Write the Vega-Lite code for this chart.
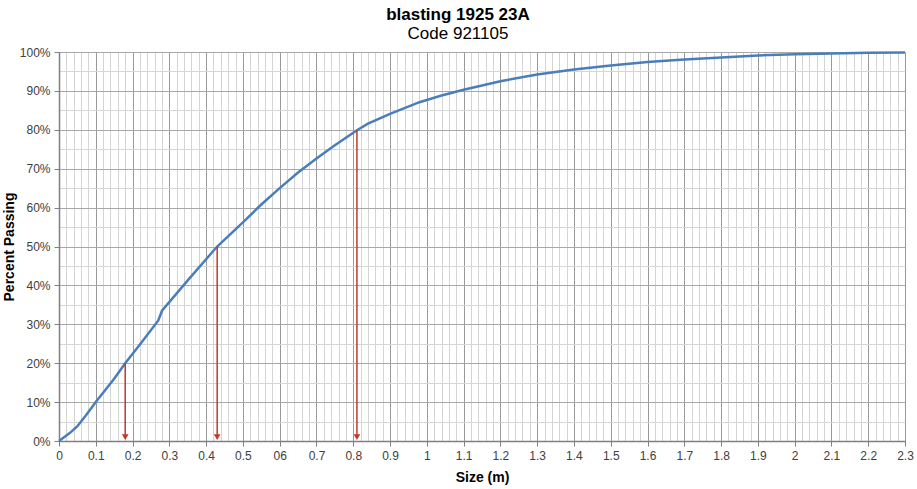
{
  "$schema": "https://vega.github.io/schema/vega-lite/v6.json",
  "autosize": "none",
  "width": 846,
  "height": 389,
  "padding": {"left": 59, "top": 52, "right": 12, "bottom": 48},
  "background": "white",
  "title": {
    "text": "blasting 1925 23A",
    "subtitle": "Code 921105",
    "anchor": "middle",
    "dx": -24,
    "font": "Liberation Sans",
    "fontSize": 17,
    "fontWeight": "bold",
    "color": "#000000",
    "subtitleFont": "Liberation Sans",
    "subtitleFontSize": 17,
    "subtitleColor": "#000000",
    "subtitlePadding": 2,
    "offset": 3
  },
  "config": {
    "view": {"stroke": null},
    "axis": {"labelFont": "Liberation Sans", "titleFont": "Liberation Sans"}
  },
  "datasets": {
    "curve": [
      {"size": 0, "pct": 0},
      {"size": 0.03, "pct": 2.1},
      {"size": 0.05, "pct": 3.8},
      {"size": 0.075, "pct": 6.8},
      {"size": 0.1, "pct": 10},
      {"size": 0.15, "pct": 16},
      {"size": 0.18, "pct": 20},
      {"size": 0.22, "pct": 24.8},
      {"size": 0.27, "pct": 31},
      {"size": 0.28, "pct": 33.5},
      {"size": 0.35, "pct": 41.3},
      {"size": 0.43, "pct": 50},
      {"size": 0.5, "pct": 56.2},
      {"size": 0.55, "pct": 60.8},
      {"size": 0.6, "pct": 65},
      {"size": 0.65, "pct": 69},
      {"size": 0.7, "pct": 72.6},
      {"size": 0.75, "pct": 76},
      {"size": 0.81, "pct": 79.9},
      {"size": 0.84, "pct": 81.6},
      {"size": 0.9, "pct": 84.1},
      {"size": 0.98, "pct": 87.1},
      {"size": 1.04, "pct": 88.8},
      {"size": 1.1, "pct": 90.3},
      {"size": 1.2, "pct": 92.5},
      {"size": 1.3, "pct": 94.2},
      {"size": 1.4, "pct": 95.5},
      {"size": 1.5, "pct": 96.5},
      {"size": 1.6, "pct": 97.4},
      {"size": 1.7, "pct": 98.1},
      {"size": 1.8, "pct": 98.6},
      {"size": 1.9, "pct": 99.1},
      {"size": 2.0, "pct": 99.4},
      {"size": 2.1, "pct": 99.6},
      {"size": 2.2, "pct": 99.8},
      {"size": 2.3, "pct": 99.9}
    ],
    "arrows": [
      {"size": 0.18, "pct": 20, "head": 1},
      {"size": 0.43, "pct": 50, "head": 1},
      {"size": 0.81, "pct": 79.9, "head": 1}
    ],
    "heads": [
      {"size": 0.18, "pct": 1},
      {"size": 0.43, "pct": 1},
      {"size": 0.81, "pct": 1}
    ]
  },
  "encoding": {
    "x": {
      "field": "size",
      "type": "quantitative",
      "scale": {"domain": [0, 2.3], "nice": false, "zero": true},
      "axis": {
        "title": "Size (m)",
        "titleFontSize": 14,
        "titleFontWeight": "bold",
        "titleColor": "#000000",
        "titlePadding": 9,
        "values": [0,0.02,0.04,0.06,0.08,0.1,0.12,0.14,0.16,0.18,0.2,0.22,0.24,0.26,0.28,0.3,0.32,0.34,0.36,0.38,0.4,0.42,0.44,0.46,0.48,0.5,0.52,0.54,0.56,0.58,0.6,0.62,0.64,0.66,0.68,0.7,0.72,0.74,0.76,0.78,0.8,0.82,0.84,0.86,0.88,0.9,0.92,0.94,0.96,0.98,1,1.02,1.04,1.06,1.08,1.1,1.12,1.14,1.16,1.18,1.2,1.22,1.24,1.26,1.28,1.3,1.32,1.34,1.36,1.38,1.4,1.42,1.44,1.46,1.48,1.5,1.52,1.54,1.56,1.58,1.6,1.62,1.64,1.66,1.68,1.7,1.72,1.74,1.76,1.78,1.8,1.82,1.84,1.86,1.88,1.9,1.92,1.94,1.96,1.98,2,2.02,2.04,2.06,2.08,2.1,2.12,2.14,2.16,2.18,2.2,2.22,2.24,2.26,2.28,2.3],
        "labelExpr": "abs(datum.value*10 - round(datum.value*10)) < 0.001 ? (round(datum.value*10) == 6 ? '06' : toString(round(datum.value*10)/10)) : ''",
        "labelOverlap": false,
        "labelFlush": false,
        "labelFontSize": 12,
        "labelColor": "#404040",
        "labelPadding": 4,
        "domainColor": "#808080",
        "domainWidth": 1.5,
        "tickColor": "#808080",
        "tickSize": 5,
        "tickOpacity": {"condition": {"test": "abs(datum.value*10 - round(datum.value*10)) < 0.001", "value": 1}, "value": 0},
        "grid": true,
        "gridWidth": 1,
        "gridColor": {"condition": {"test": "abs(datum.value*10 - round(datum.value*10)) < 0.001", "value": "#999999"}, "value": "#d4d4d4"}
      }
    },
    "y": {
      "field": "pct",
      "type": "quantitative",
      "scale": {"domain": [0, 100], "nice": false},
      "axis": {
        "title": "Percent Passing",
        "titleFontSize": 14,
        "titleFontWeight": "bold",
        "titleColor": "#000000",
        "titlePadding": 3,
        "values": [0,5,10,15,20,25,30,35,40,45,50,55,60,65,70,75,80,85,90,95,100],
        "labelExpr": "datum.value % 10 == 0 ? datum.value + '%' : ''",
        "labelOverlap": false,
        "labelFlush": false,
        "labelFontSize": 12,
        "labelColor": "#404040",
        "labelPadding": 4,
        "domainColor": "#808080",
        "domainWidth": 1.5,
        "tickColor": "#808080",
        "tickSize": 5,
        "tickOpacity": {"condition": {"test": "datum.value % 10 == 0", "value": 1}, "value": 0},
        "grid": true,
        "gridWidth": 1,
        "gridColor": {"condition": {"test": "datum.value % 10 == 0", "value": "#a8a8a8"}, "value": "#d6d6d6"}
      }
    }
  },
  "layer": [
    {
      "data": {"name": "curve"},
      "mark": {"type": "line", "color": "#4a7ebb", "strokeWidth": 2.5, "interpolate": "linear"},
      "encoding": {}
    },
    {
      "data": {"name": "arrows"},
      "mark": {"type": "rule", "color": "#c0392b", "strokeWidth": 1.5},
      "encoding": {
        "y2": {"field": "head"}
      }
    },
    {
      "data": {"name": "heads"},
      "mark": {"type": "point", "shape": "triangle-down", "filled": true, "color": "#c0392b", "size": 45, "opacity": 1},
      "encoding": {}
    }
  ]
}
